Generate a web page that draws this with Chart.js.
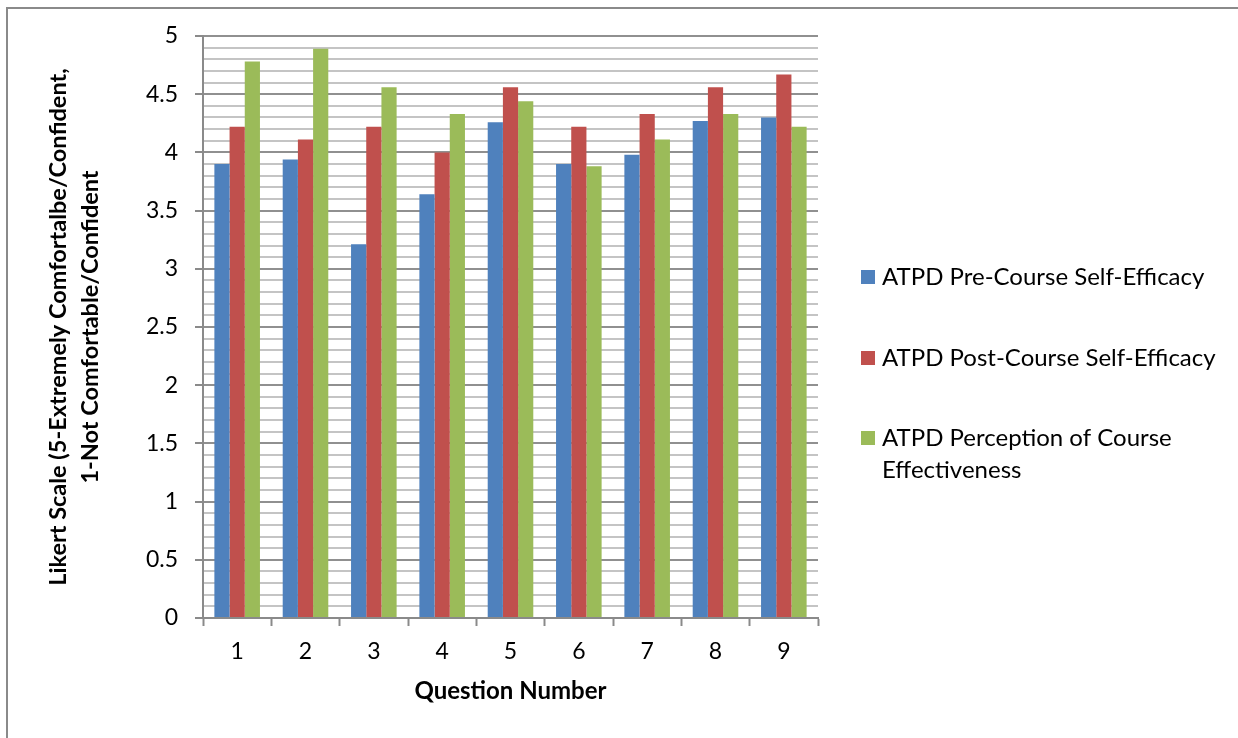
<!DOCTYPE html>
<html>
<head>
<meta charset="utf-8">
<script src="https://cdn.jsdelivr.net/npm/chart.js@4/dist/chart.umd.min.js"></script>
<style>
  html, body { margin: 0; padding: 0; background: #ffffff; }
  #wrap { width: 1238px; height: 738px; position: relative; }
</style>
</head>
<body>
<div id="wrap"><canvas id="c" width="1238" height="738"></canvas></div>
<script>
// Question numbers along the x axis
const questions = ['1', '2', '3', '4', '5', '6', '7', '8', '9'];

// Mean Likert ratings per question
const preCourse  = [3.90, 3.94, 3.21, 3.64, 4.26, 3.90, 3.98, 4.27, 4.30];
const postCourse = [4.22, 4.11, 4.22, 4.00, 4.56, 4.22, 4.33, 4.56, 4.67];
const perception = [4.78, 4.89, 4.56, 4.33, 4.44, 3.88, 4.11, 4.33, 4.22];

const seriesNames = [
  'ATPD Pre-Course Self-Efficacy',
  'ATPD Post-Course Self-Efficacy',
  'ATPD Perception of Course Effectiveness'
];
const seriesColors = ['#4F81BD', '#C0504D', '#9BBB59'];

const yTitle = ['Likert Scale (5-Extremely Comfortalbe/Confident,', '1-Not Comfortable/Confident'];
const xTitle = 'Question Number';

const FONT = 'Lato, "Open Sans", sans-serif';
const isMajor = v => Math.abs(v * 2 - Math.round(v * 2)) < 1e-6;

// Outer frame and white background
const framePlugin = {
  id: 'frame',
  beforeDraw(chart) {
    const ctx = chart.ctx;
    ctx.save();
    ctx.fillStyle = '#ffffff';
    ctx.fillRect(0, 0, chart.width, chart.height);
    ctx.strokeStyle = '#8a8a8a';
    ctx.lineWidth = 2;
    ctx.strokeRect(7, 8, chart.width + 20, chart.height + 20);
    ctx.restore();
  }
};

// Legend on the right with wrapped labels
const sideLegend = {
  id: 'sideLegend',
  afterDraw(chart) {
    const ctx = chart.ctx;
    const x = 861, maxW = 340, lineH = 32;
    const rows = [277, 358, 438];
    ctx.save();
    ctx.font = '24px ' + FONT;
    ctx.textBaseline = 'middle';
    chart.data.datasets.forEach((ds, i) => {
      const y = rows[i];
      ctx.fillStyle = ds.backgroundColor;
      ctx.fillRect(x, y - 7, 14, 14);
      // wrap words to the legend width
      const words = ds.label.split(' ');
      const lines = [];
      let cur = '';
      words.forEach(w => {
        const t = cur ? cur + ' ' + w : w;
        if (ctx.measureText(t).width > maxW && cur) { lines.push(cur); cur = w; }
        else cur = t;
      });
      if (cur) lines.push(cur);
      ctx.fillStyle = '#000';
      lines.forEach((ln, k) => ctx.fillText(ln, x + 21, y + k * lineH));
    });
    ctx.restore();
  }
};

const datasets = [preCourse, postCourse, perception].map((vals, i) => ({
  label: seriesNames[i],
  data: vals,
  backgroundColor: seriesColors[i],
  borderWidth: 0,
  barPercentage: 1.0,
  categoryPercentage: 0.667
}));

new Chart(document.getElementById('c'), {
  type: 'bar',
  data: { labels: questions, datasets },
  plugins: [framePlugin, sideLegend],
  options: {
    responsive: false,
    animation: false,
    layout: { padding: { left: 0, top: 36, right: 420, bottom: 0 } },
    plugins: { legend: { display: false }, tooltip: { enabled: false } },
    scales: {
      x: {
        afterFit(s) { s.height = 120; },
        grid: {
          offset: true,
          drawOnChartArea: false,
          drawTicks: true,
          tickLength: 8,
          tickColor: '#8a8a8a',
          tickWidth: 2
        },
        border: { color: '#8a8a8a', width: 2 },
        ticks: { color: '#000', font: { family: FONT, size: 23 }, padding: 12 },
        title: {
          display: true, text: xTitle, color: '#000',
          font: { family: FONT, size: 24, weight: 'bold' },
          padding: { top: 0, bottom: 32 }
        }
      },
      y: {
        min: 0, max: 5,
        afterFit(s) { s.width = 203; },
        grid: {
          color: c => isMajor(c.tick.value) ? '#909090' : '#c4c4c4',
          lineWidth: 2,
          tickLength: 8,
          tickColor: c => isMajor(c.tick.value) ? '#8a8a8a' : 'rgba(0,0,0,0)',
          tickWidth: 2
        },
        border: { color: '#8a8a8a', width: 2 },
        ticks: {
          stepSize: 0.1,
          autoSkip: false,
          color: '#000',
          font: { family: FONT, size: 23 },
          padding: 17,
          callback: v => isMajor(v) ? String(Math.round(v * 2) / 2) : ''
        },
        title: {
          display: true, text: yTitle, color: '#000',
          font: { family: FONT, size: 23.5, weight: 'bold', lineHeight: 1.36 },
          padding: { top: 42, bottom: 0 }
        }
      }
    }
  }
});
</script>
</body>
</html>
